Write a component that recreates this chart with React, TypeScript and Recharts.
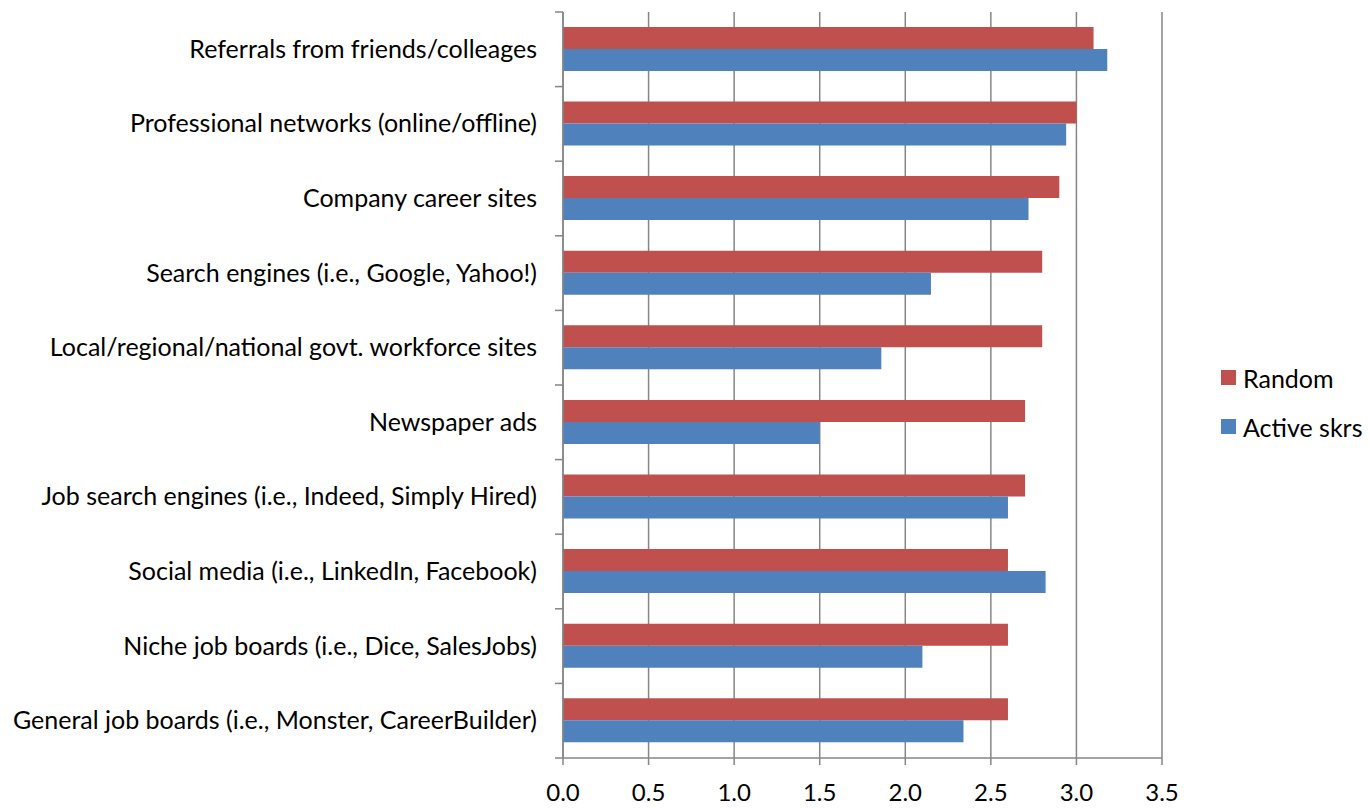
import { BarChart, Bar, XAxis, YAxis, CartesianGrid, Legend } from 'recharts'

const categories = [
  'Referrals from friends/colleages',
  'Professional networks (online/offline)',
  'Company career sites',
  'Search engines (i.e., Google, Yahoo!)',
  'Local/regional/national govt. workforce sites',
  'Newspaper ads',
  'Job search engines (i.e., Indeed, Simply Hired)',
  'Social media (i.e., LinkedIn, Facebook)',
  'Niche job boards (i.e., Dice, SalesJobs)',
  'General job boards (i.e., Monster, CareerBuilder)',
]
const random = [3.1, 3.0, 2.9, 2.8, 2.8, 2.7, 2.7, 2.6, 2.6, 2.6]
const activeSkrs = [3.18, 2.94, 2.72, 2.15, 1.86, 1.5, 2.6, 2.82, 2.1, 2.34]
const xTicks = [0, 0.5, 1, 1.5, 2, 2.5, 3, 3.5]

const data = categories.map((name, i) => ({ name, random: random[i], active: activeSkrs[i] }))

const W = 1369
const H = 808
const TOP = 12
const X_AXIS_H = 50
const STEP = (H - TOP - X_AXIS_H) / categories.length
const FONT = 'Lato, "Open Sans", sans-serif'
const FS = 25
const GRID = '#868686'

function CategoryTick(props: any) {
  const { x, y, payload, index } = props
  return (
    <g>
      <line x1={x} x2={x + 8} y1={y - STEP / 2} y2={y - STEP / 2} stroke={GRID} strokeWidth={1.5} />
      {index === categories.length - 1 && (
        <line x1={x} x2={x + 8} y1={y + STEP / 2} y2={y + STEP / 2} stroke={GRID} strokeWidth={1.5} />
      )}
      <text x={x - 18} y={y} dy={8.5} textAnchor="end" fontSize={FS} fill="#000" fontFamily={FONT}>
        {payload.value}
      </text>
    </g>
  )
}

function ValueTick(props: any) {
  const { x, y, payload } = props
  return (
    <text x={x} y={y + 34} textAnchor="middle" fontSize={24} fill="#000" fontFamily={FONT}>
      {payload.value.toFixed(1)}
    </text>
  )
}

function LegendBox() {
  const items = [
    { label: 'Random', color: '#C0504D' },
    { label: 'Active skrs', color: '#4F81BD' },
  ]
  return (
    <div style={{ fontFamily: FONT, fontSize: FS, color: '#000' }}>
      {items.map(it => (
        <div key={it.label} style={{ display: 'flex', alignItems: 'center', height: 49 }}>
          <span style={{ width: 15, height: 15, background: it.color, marginRight: 7 }} />
          {it.label}
        </div>
      ))}
    </div>
  )
}

export default function App() {
  return (
    <div style={{ position: 'fixed', left: 0, top: 0, background: '#fff' }}>
      <BarChart
        width={W}
        height={H}
        data={data}
        layout="vertical"
        margin={{ top: TOP, right: 207, bottom: 0, left: 0 }}
        barCategoryGap="20%"
        barGap={0}
      >
        <CartesianGrid horizontal={false} stroke={GRID} strokeWidth={1.5} />
        <XAxis
          type="number"
          domain={[0, 3.5]}
          ticks={xTicks}
          height={X_AXIS_H}
          stroke={GRID}
          strokeWidth={1.5}
          tickSize={7}
          tick={<ValueTick />}
          interval={0}
        />
        <YAxis
          type="category"
          dataKey="name"
          width={563}
          stroke={GRID}
          strokeWidth={1.5}
          tickLine={false}
          tick={<CategoryTick />}
          interval={0}
        />
        <Legend
          layout="horizontal"
          verticalAlign="middle"
          content={<LegendBox />}
          wrapperStyle={{ position: 'absolute', left: 1221, top: 353, width: 148 }}
        />
        <Bar dataKey="random" name="Random" fill="#C0504D" isAnimationActive={false} />
        <Bar dataKey="active" name="Active skrs" fill="#4F81BD" isAnimationActive={false} />
      </BarChart>
    </div>
  )
}
